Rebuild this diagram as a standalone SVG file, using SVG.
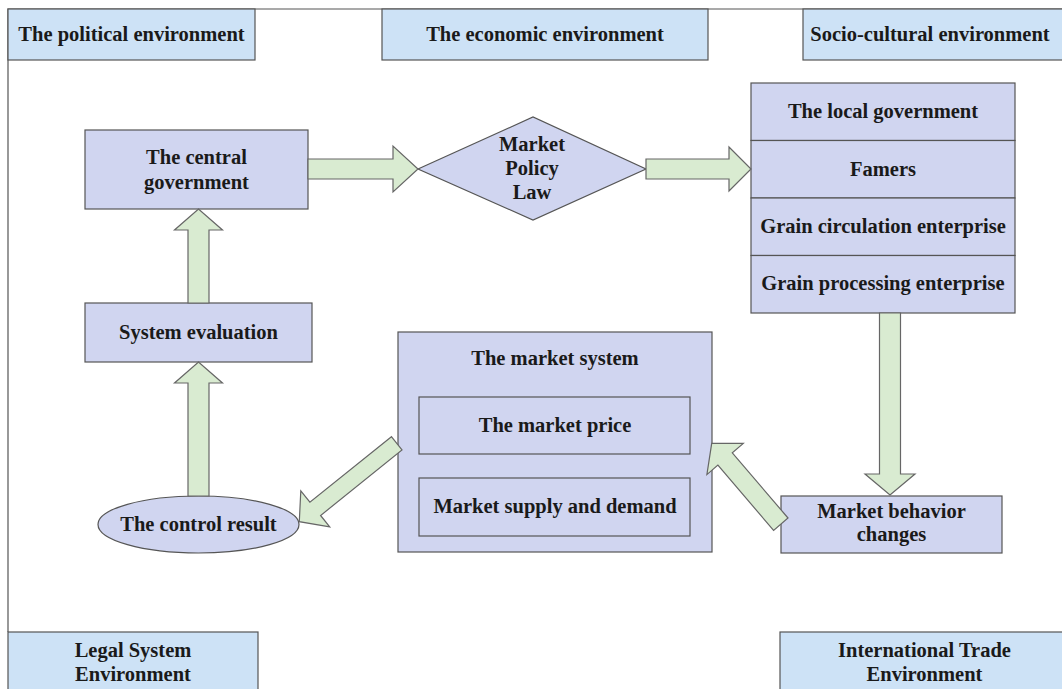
<svg xmlns="http://www.w3.org/2000/svg" width="1062" height="689" viewBox="0 0 1062 689">
<style>
.env{fill:#cde2f6;stroke:#555;stroke-width:1.2}
.node{fill:#d0d5f0;stroke:#555;stroke-width:1.2}
.arrow{fill:#d9ebd1;stroke:#666;stroke-width:1.2;stroke-linejoin:miter}
.frame{fill:none;stroke:#555;stroke-width:1.2}
text{font-family:"Liberation Serif","Times New Roman",serif;font-weight:bold;font-size:20.5px;fill:#1a1a1a;text-anchor:middle}
</style>
<rect x="0" y="0" width="1062" height="689" fill="#ffffff"/>
<path class="frame" d="M8,632 L8,9 L1062,9"/>

<g id="env-political"><rect class="env" x="8" y="9" width="247" height="51"/><text x="131.5" y="41">The political environment</text></g>
<g id="env-economic"><rect class="env" x="382" y="9" width="326" height="51"/><text x="545" y="41">The economic environment</text></g>
<g id="env-socio"><rect class="env" x="803" y="9" width="265" height="51"/><text x="930" y="41">Socio-cultural environment</text></g>
<g id="env-legal"><rect class="env" x="8" y="632" width="250" height="62"/><text x="133" y="657">Legal System</text><text x="133" y="681">Environment</text></g>
<g id="env-trade"><rect class="env" x="780" y="632" width="288" height="62"/><text x="924.5" y="657">International Trade</text><text x="924.5" y="681">Environment</text></g>

<g id="central-government"><rect class="node" x="85" y="130" width="223" height="79"/><text x="196.5" y="164">The central</text><text x="196.5" y="189">government</text></g>
<g id="market-policy-law"><polygon class="node" points="418,169 533,117 646,169 533,220"/><text x="532" y="151">Market</text><text x="532" y="175">Policy</text><text x="532" y="199">Law</text></g>
<g id="local-government"><rect class="node" x="751" y="83" width="264" height="57.5"/><text x="883" y="118">The local government</text></g>
<g id="famers"><rect class="node" x="751" y="140.5" width="264" height="57.5"/><text x="883" y="176">Famers</text></g>
<g id="grain-circulation"><rect class="node" x="751" y="198" width="264" height="57.5"/><text x="883" y="233">Grain circulation enterprise</text></g>
<g id="grain-processing"><rect class="node" x="751" y="255.5" width="264" height="57.5"/><text x="883" y="290">Grain processing enterprise</text></g>
<g id="system-evaluation"><rect class="node" x="85" y="303" width="227" height="59"/><text x="198.5" y="339">System evaluation</text></g>
<g id="market-system"><rect class="node" x="398" y="332" width="314" height="220"/><text x="555" y="365">The market system</text></g>
<g id="market-price"><rect class="node" x="419" y="397" width="271" height="57"/><text x="555" y="432">The market price</text></g>
<g id="supply-demand"><rect class="node" x="419" y="478" width="271" height="58"/><text x="555" y="513">Market supply and demand</text></g>
<g id="control-result"><ellipse class="node" cx="198.5" cy="524.5" rx="100.5" ry="28.5"/><text x="198.5" y="531">The control result</text></g>
<g id="market-behavior"><rect class="node" x="781" y="496" width="221" height="57"/><text x="891.5" y="518">Market behavior</text><text x="891.5" y="541">changes</text></g>

<g id="connectors">
<polygon class="arrow" points="308,159 393,159 393,146 418,169 393,192 393,179 308,179"/>
<polygon class="arrow" points="646,159 729,159 729,147 751,169 729,191 729,179 646,179"/>
<polygon class="arrow" points="879.5,313 900.5,313 900.5,474 915,474 890,495 865,474 879.5,474"/>
<polygon class="arrow" points="188,303 188,230 174.5,230 198.5,209 222.5,230 209,230 209,303"/>
<polygon class="arrow" points="188,496 188,383 174.5,383 198.5,362 222.5,383 209,383 209,496"/>
<polygon class="arrow" points="391.4,436.7 309.9,502.2 300.8,490.9 299.3,521.7 329.7,526.8 320.6,515.5 402.0,449.9"/>
<polygon class="arrow" points="788.0,518.0 732.3,452.8 743.3,443.4 711.7,443.3 706.9,474.6 717.9,465.1 773.6,530.4"/>
</g>
</svg>
